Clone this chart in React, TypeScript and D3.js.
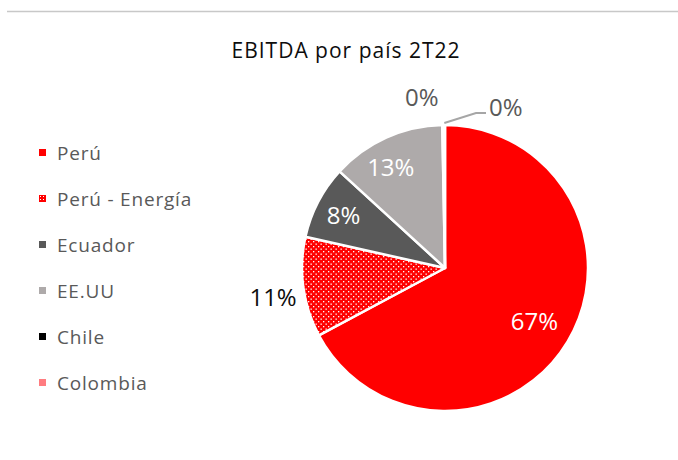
import React from "react";
import * as d3 from "d3";

const categories = ["Perú", "Perú - Energía", "Ecuador", "EE.UU", "Chile", "Colombia"];
const values = [67.2, 11.3, 8.3, 12.9, 0.15, 0.15];
const labels = ["67%", "11%", "8%", "13%", "0%", "0%"];
const colors = ["#FF0000", "url(#dots)", "#595959", "#AEAAAA", "#000000", "#FF7C80"];
const labelColors = ["#FFFFFF", "#0D0D0D", "#FFFFFF", "#FFFFFF", "#595959", "#595959"];
// label placement: radius factor and angle offset (deg)
const labelRadius = [0.73, 1.22, 0.8, 0.8, 1.2, 1.2];
const labelAngleShift = [0, -2, 0, -4, -7, 21];

const W = 678, H = 460;
const cx = 445, cy = 268, R = 143;
const FONT = "'Open Sans', 'Noto Sans', sans-serif";

export default function App() {
  const pie = d3.pie<number>().sort(null).value((d) => d);
  const arcs = pie(values);
  const arc = d3.arc<d3.PieArcDatum<number>>().innerRadius(0).outerRadius(R);

  const legendY = d3.scalePoint<string>().domain(categories).range([153, 383]);

  const pos = (i: number) => {
    const a = arcs[i];
    const mid = (a.startAngle + a.endAngle) / 2 + (labelAngleShift[i] * Math.PI) / 180;
    const r = R * labelRadius[i];
    return [Math.sin(mid) * r, -Math.cos(mid) * r];
  };

  const colArc = arcs[5];
  const colMid = (colArc.startAngle + colArc.endAngle) / 2;
  const leaderStart = [Math.sin(colMid) * (R + 2), -Math.cos(colMid) * (R + 2)];

  return (
    <svg width={W} height={H} style={{ position: "absolute", left: 0, top: 0, fontFamily: FONT }}>
      <defs>
        <pattern id="dots" width="5" height="5" patternUnits="userSpaceOnUse">
          <rect width="5" height="5" fill="#FF0000" />
          <rect x="0.5" y="0.5" width="1.3" height="1.3" fill="#FFFFFF" />
          <rect x="3" y="3" width="1.3" height="1.3" fill="#FFFFFF" />
        </pattern>
        <pattern id="dotsLegend" width="3" height="3" patternUnits="userSpaceOnUse">
          <rect width="3" height="3" fill="#FF0000" />
          <rect x="1" y="1" width="1" height="1" fill="#FFFFFF" />
        </pattern>
      </defs>
      <rect width={W} height={H} fill="#FFFFFF" />
      <line x1={7} x2={678} y1={11.5} y2={11.5} stroke="#C8C8C8" strokeWidth={1.5} />
      <text x={346} y={58} textAnchor="middle" fontSize={21} letterSpacing={1} fill="#0D0D0D">
        EBITDA por país 2T22
      </text>

      <g transform={`translate(${cx},${cy})`}>
        {arcs.map((a, i) => (
          <path key={i} d={arc(a) || ""} fill={colors[i]} stroke="#FFFFFF" strokeWidth={2.5} strokeLinejoin="round" />
        ))}
        <polyline
          points={`${leaderStart[0]},${leaderStart[1]} ${476 - cx},${113 - cy} ${486 - cx},${113 - cy}`}
          fill="none"
          stroke="#A6A6A6"
          strokeWidth={2}
        />
        {arcs.map((a, i) => {
          const [x, y] = pos(i);
          return (
            <text key={i} x={x} y={y} dy="0.35em" textAnchor="middle" fontSize={24} fill={labelColors[i]}>
              {labels[i]}
            </text>
          );
        })}
      </g>

      {categories.map((c, i) => {
        const y = legendY(c) as number;
        return (
          <g key={c}>
            <rect x={39} y={y - 4} width={7} height={7} fill={i === 1 ? "url(#dotsLegend)" : colors[i]} />
            <text x={57} y={y} dy="0.35em" fontSize={19} letterSpacing={0.8} fill="#595959">
              {c}
            </text>
          </g>
        );
      })}
    </svg>
  );
}
